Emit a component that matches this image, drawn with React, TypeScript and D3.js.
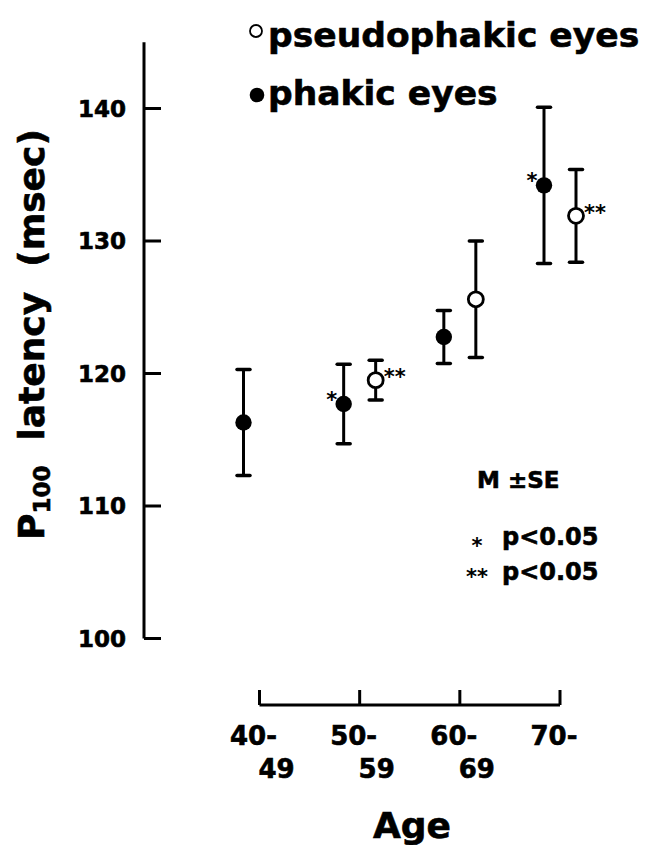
import React from 'react';
import * as d3 from 'd3';

// ---- data ----
const ageGroups = ['40-49', '50-59', '60-69', '70-'];
const tickLine1 = ['40-', '50-', '60-', '70-'];
const tickLine2 = ['49', '59', '69', ''];
const yTicks = [100, 110, 120, 130, 140];

const phakicMean: (number | null)[] = [116.3, 117.7, 122.75, 134.2];
const phakicSE: (number | null)[] = [4.0, 3.0, 2.0, 5.9];
const phakicSig = ['', '*', '', '*'];

const pseudoMean: (number | null)[] = [null, 119.5, 125.6, 131.9];
const pseudoSE: (number | null)[] = [null, 1.5, 4.4, 3.5];
const pseudoSig = ['', '**', '', '**'];

const FONT = '"DejaVu Sans", "Liberation Sans", Arial, sans-serif';
const HEAVY = { stroke: '#000', strokeWidth: 0.6 };

export default function App() {
  const y = d3.scaleLinear().domain([100, 145]).range([638.5, 42.25]);
  const x = d3.scaleLinear().domain([0, ageGroups.length - 1]).range([259.5, 560]);
  const axisX = 144;
  const xAxisY = 705;
  const off = 16;

  const renderSeries = (
    means: (number | null)[],
    ses: (number | null)[],
    sig: string[],
    dx: number,
    open: boolean,
  ) =>
    means.map((m, i) => {
      if (m == null) return null;
      const se = ses[i] as number;
      const cx = x(i) + dx;
      const cy = y(m);
      const y1 = y(m + se);
      const y2 = y(m - se);
      return (
        <g key={`${open ? 'o' : 'f'}${i}`}>
          <line x1={cx} x2={cx} y1={y1} y2={y2} stroke="#000" strokeWidth={3} />
          <line x1={cx - 6.5} x2={cx + 6.5} y1={y1} y2={y1} stroke="#000" strokeWidth={3.5} strokeLinecap="round" />
          <line x1={cx - 6.5} x2={cx + 6.5} y1={y2} y2={y2} stroke="#000" strokeWidth={3.5} strokeLinecap="round" />
          {open ? (
            <circle cx={cx} cy={cy} r={7.5} fill="#fff" stroke="#000" strokeWidth={2.8} />
          ) : (
            <circle cx={cx} cy={cy} r={8.2} fill="#000" />
          )}
          {sig[i] ? (
            <text
              x={open ? cx + 19 : cx - 12}
              y={cy + (open ? 4 : 3)}
              textAnchor="middle"
              fontFamily={FONT}
              fontWeight="bold"
              fontSize={21}
              fill="#000"
            >
              {sig[i]}
            </text>
          ) : null}
        </g>
      );
    });

  return (
    <svg
      width={650}
      height={845}
      style={{ position: 'absolute', left: 0, top: 0, display: 'block', background: '#fff' }}
    >
      <rect x={0} y={0} width={650} height={845} fill="#fff" />

      {/* y axis */}
      <line x1={axisX} x2={axisX} y1={y(145)} y2={y(100)} stroke="#000" strokeWidth={3} />
      {yTicks.map((t) => (
        <g key={t}>
          <line x1={axisX} x2={axisX + 17} y1={y(t)} y2={y(t)} stroke="#000" strokeWidth={3} />
          <text
            x={126}
            y={y(t) + 8}
            textAnchor="end"
            fontFamily={FONT}
            fontWeight="bold"
            fontSize={23}
            fill="#000"
            {...HEAVY}
          >
            {t}
          </text>
        </g>
      ))}

      {/* y label */}
      <text
        transform={`translate(44, 540) rotate(-90)`}
        fontFamily={FONT}
        fontWeight="bold"
        fontSize={36}
        fill="#000"
        {...HEAVY}
        style={{ whiteSpace: 'pre' }}
      >
        P
        <tspan fontSize={23} dy={6}>100</tspan>
        <tspan dy={-6}>{'  latency  (msec)'}</tspan>
      </text>

      {/* x axis */}
      <line x1={x(0)} x2={x(ageGroups.length - 1)} y1={xAxisY} y2={xAxisY} stroke="#000" strokeWidth={3} />
      {ageGroups.map((g, i) => (
        <g key={g}>
          <line x1={x(i)} x2={x(i)} y1={xAxisY} y2={xAxisY - 15} stroke="#000" strokeWidth={3} />
          <text x={x(i) - 6} y={745} textAnchor="middle" fontFamily={FONT} fontWeight="bold" fontSize={26} fill="#000" {...HEAVY}>
            {tickLine1[i]}
          </text>
          {tickLine2[i] ? (
            <text x={x(i) + 17} y={778} textAnchor="middle" fontFamily={FONT} fontWeight="bold" fontSize={26} fill="#000" {...HEAVY}>
              {tickLine2[i]}
            </text>
          ) : null}
        </g>
      ))}
      <text x={412} y={838} textAnchor="middle" fontFamily={FONT} fontWeight="bold" fontSize={36} fill="#000" {...HEAVY}>
        Age
      </text>

      {/* data */}
      {renderSeries(phakicMean, phakicSE, phakicSig, -off, false)}
      {renderSeries(pseudoMean, pseudoSE, pseudoSig, off, true)}

      {/* legend */}
      <circle cx={256} cy={31} r={6} fill="#fff" stroke="#000" strokeWidth={1.8} />
      <text x={268} y={47} fontFamily={FONT} fontWeight="bold" fontSize={34.5} fill="#000" {...HEAVY}>
        pseudophakic eyes
      </text>
      <circle cx={257} cy={95} r={7.3} fill="#000" />
      <text x={268} y={105} fontFamily={FONT} fontWeight="bold" fontSize={34.5} fill="#000" {...HEAVY}>
        phakic eyes
      </text>

      {/* annotation */}
      <text x={477} y={488} fontFamily={FONT} fontWeight="bold" fontSize={23} fill="#000" {...HEAVY}>
        M ±SE
      </text>
      <text x={477} y={553} textAnchor="middle" fontFamily={FONT} fontWeight="bold" fontSize={21} fill="#000">
        *
      </text>
      <text x={502} y={545} fontFamily={FONT} fontWeight="bold" fontSize={24} fill="#000" {...HEAVY}>
        p&lt;0.05
      </text>
      <text x={477} y={584} textAnchor="middle" fontFamily={FONT} fontWeight="bold" fontSize={21} fill="#000">
        **
      </text>
      <text x={502} y={580} fontFamily={FONT} fontWeight="bold" fontSize={24} fill="#000" {...HEAVY}>
        p&lt;0.05
      </text>
    </svg>
  );
}
